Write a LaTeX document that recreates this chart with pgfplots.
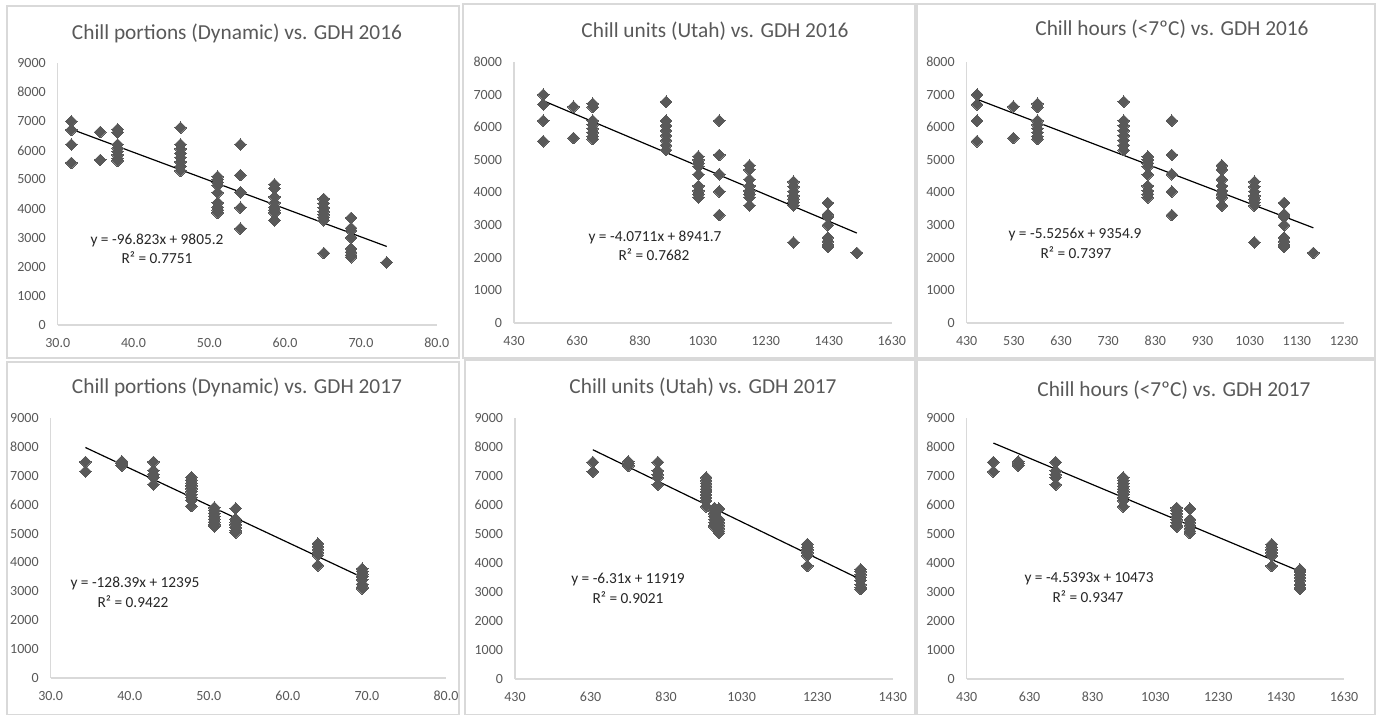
\documentclass[border=0pt]{standalone}
\usepackage{fontspec}
\setmainfont{Carlito}
\usepackage{pgfplots}
\usepackage{pgfplotstable}
\pgfplotsset{compat=1.18}
\definecolor{txt}{HTML}{595959}
\definecolor{axl}{HTML}{D9D9D9}
\definecolor{mk}{HTML}{595959}
\definecolor{frm}{HTML}{D9D9D9}

\pgfplotstableread{
cp cu ch gdh
31.8 523 452 7000
31.8 523 452 6700
31.8 523 452 6200
31.8 523 452 5570
35.6 619 529 6630
35.6 619 529 5670
37.9 680 580 6720
37.9 680 580 6620
37.9 680 580 6200
37.9 680 580 6080
37.9 680 580 5960
37.9 680 580 5840
37.9 680 580 5720
37.9 680 580 5640
46.2 913 763 6780
46.2 913 763 6200
46.2 913 763 6050
46.2 913 763 5900
46.2 913 763 5750
46.2 913 763 5600
46.2 913 763 5450
46.2 913 763 5300
51.1 1016 814 5100
51.1 1016 814 5000
51.1 1016 814 4900
51.1 1016 814 4800
51.1 1016 814 4550
51.1 1016 814 4200
51.1 1016 814 4050
51.1 1016 814 3950
51.1 1016 814 3850
54.1 1082 865 6200
54.1 1082 865 5150
54.1 1082 865 4560
54.1 1082 865 4030
54.1 1082 865 3310
58.6 1178 971 4830
58.6 1178 971 4700
58.6 1178 971 4400
58.6 1178 971 4200
58.6 1178 971 4050
58.6 1178 971 3950
58.6 1178 971 3850
58.6 1178 971 3600
65.1 1318 1040 4330
65.1 1318 1040 4180
65.1 1318 1040 4030
65.1 1318 1040 3900
65.1 1318 1040 3800
65.1 1318 1040 3700
65.1 1318 1040 3600
65.1 1318 1040 2470
68.7 1427 1103 3680
68.7 1427 1103 3330
68.7 1427 1103 3250
68.7 1427 1103 3000
68.7 1427 1103 2620
68.7 1427 1103 2500
68.7 1427 1103 2400
68.7 1427 1103 2330
73.4 1519 1165 2150
}\dataA

\pgfplotstableread{
cp cu ch gdh
34.4 636 515 7480
34.4 636 515 7150
39.0 730 594 7500
39.0 730 594 7420
39.0 730 594 7350
43.0 808 713 7480
43.0 808 713 7180
43.0 808 713 7050
43.0 808 713 6950
43.0 808 713 6700
47.8 936 928 6950
47.8 936 928 6850
47.8 936 928 6750
47.8 936 928 6650
47.8 936 928 6550
47.8 936 928 6450
47.8 936 928 6350
47.8 936 928 6250
47.8 936 928 6150
47.8 936 928 5950
50.7 958 1098 5900
50.7 958 1098 5800
50.7 958 1098 5700
50.7 958 1098 5600
50.7 958 1098 5500
50.7 958 1098 5400
50.7 958 1098 5300
50.7 958 1098 5250
53.4 970 1140 5870
53.4 970 1140 5500
53.4 970 1140 5400
53.4 970 1140 5300
53.4 970 1140 5200
53.4 970 1140 5100
53.4 970 1140 5030
63.8 1204 1400 4650
63.8 1204 1400 4550
63.8 1204 1400 4450
63.8 1204 1400 4350
63.8 1204 1400 4250
63.8 1204 1400 3900
69.4 1345 1490 3780
69.4 1345 1490 3700
69.4 1345 1490 3600
69.4 1345 1490 3500
69.4 1345 1490 3400
69.4 1345 1490 3250
69.4 1345 1490 3150
69.4 1345 1490 3100
}\dataB

\pgfplotsset{
  panel/.style={
    scale only axis,
    anchor=south west,
    axis lines*=left,
    axis line style={draw=axl, line width=0.9pt, -},
    major tick length=0pt,
    tick style={draw=none},
    ymin=0,
    ticklabel style={font=\fontsize{10.5}{12}\selectfont, text=txt},
    /pgf/number format/assume math mode=true,
    /pgf/number format/1000 sep={},
    yticklabel style={anchor=east, xshift=-5.5pt},
    xticklabel style={yshift=-6.5pt},
    clip=false,
  },
  fx/.style={xticklabel style={/pgf/number format/.cd, fixed, fixed zerofill, precision=1}},
  pts/.style={color=mk, only marks, mark=square*, mark size=3.1pt, mark options={rotate=45, fill=mk, draw=mk, line width=0pt}},
  trend/.style={black, line width=0.9pt, no marks},
}
\tikzset{
  ttl/.style={text=txt, font=\fontsize{16}{19}\selectfont, anchor=center, inner sep=0pt},
  eq/.style={text=black!85, font=\fontsize{11.5}{13}\selectfont, anchor=center, inner sep=0pt},
}

\begin{document}
\begin{tikzpicture}
\useasboundingbox (0,0) rectangle (1032pt,536.25pt);
\fill[white] (0,0) rectangle (1032pt,536.25pt);
% panel frames
\draw[frm, line width=0.9pt] (5.25pt,267.75pt) rectangle (344.25pt,531.75pt);
\draw[frm, line width=0.9pt] (347.25pt,267.75pt) rectangle (686.25pt,533.25pt);
\draw[frm, line width=0.9pt] (687.75pt,267.75pt) rectangle (1031.25pt,533.25pt);
\draw[frm, line width=0.9pt] (5.25pt,0.4pt) rectangle (344.25pt,264.75pt);
\draw[frm, line width=0.9pt] (348.75pt,0.4pt) rectangle (686.25pt,266.25pt);
\draw[frm, line width=0.9pt] (687.75pt,0.4pt) rectangle (1031.25pt,266.25pt);

% ---- Panel 1
\begin{axis}[panel, fx, at={(43.3pt,292.5pt)}, width=284.25pt, height=196.5pt,
  xmin=30, xmax=80, ymax=9000, xtick={30,40,...,80}, ytick={0,1000,...,9000}]
\addplot[pts] table[x=cp, y=gdh] {\dataA};
\addplot[trend] coordinates {(31.8,6726.2) (73.4,2698.4)};
\end{axis}
% ---- Panel 2
\begin{axis}[panel, at={(385.5pt,294pt)}, width=283.3pt, height=195.75pt,
  xmin=430, xmax=1630, ymax=8000, xtick={430,630,...,1630}, ytick={0,1000,...,8000}]
\addplot[pts] table[x=cu, y=gdh] {\dataA};
\addplot[trend] coordinates {(523,6812.5) (1519,2757.7)};
\end{axis}
% ---- Panel 3
\begin{axis}[panel, at={(725pt,294pt)}, width=283pt, height=195.75pt,
  xmin=430, xmax=1230, ymax=8000, xtick={430,530,...,1230}, ytick={0,1000,...,8000}]
\addplot[pts] table[x=ch, y=gdh] {\dataA};
\addplot[trend] coordinates {(452,6857.3) (1165,2917.6)};
\end{axis}
% ---- Panel 4
\begin{axis}[panel, fx, at={(38pt,27.75pt)}, width=296.5pt, height=195pt,
  xmin=30, xmax=80, ymax=9000, xtick={30,40,...,80}, ytick={0,1000,...,9000}]
\addplot[pts] table[x=cp, y=gdh] {\dataB};
\addplot[trend] coordinates {(34.4,7978.4) (69.4,3484.7)};
\end{axis}
% ---- Panel 5
\begin{axis}[panel, at={(386.25pt,27pt)}, width=283.3pt, height=195.75pt,
  xmin=430, xmax=1430, ymax=9000, xtick={430,630,...,1430}, ytick={0,1000,...,9000}]
\addplot[pts] table[x=cu, y=gdh] {\dataB};
\addplot[trend] coordinates {(636,7905.8) (1345,3432.0)};
\end{axis}
% ---- Panel 6
\begin{axis}[panel, at={(725pt,27pt)}, width=283pt, height=195.75pt,
  xmin=430, xmax=1630, ymax=9000, xtick={430,630,...,1630}, ytick={0,1000,...,9000}]
\addplot[pts] table[x=ch, y=gdh] {\dataB};
\addplot[trend] coordinates {(515,8135.3) (1490,3709.4)};
\end{axis}

% titles
\node[ttl] at (177.75pt,511.5pt) {Chill portions (Dynamic) vs. GDH 2016};
\node[ttl] at (536.25pt,513pt) {Chill units (Utah) vs. GDH 2016};
\node[ttl] at (879pt,514.5pt) {Chill hours (<7ºC) vs. GDH 2016};
\node[ttl] at (177.75pt,246pt) {Chill portions (Dynamic) vs. GDH 2017};
\node[ttl] at (527.25pt,246pt) {Chill units (Utah) vs. GDH 2017};
\node[ttl] at (880.5pt,243.75pt) {Chill hours (<7ºC) vs. GDH 2017};

% trendline equations
\node[eq] at (117.75pt,356.25pt) {y = -96.823x + 9805.2};
\node[eq] at (117.75pt,342.75pt) {R² = 0.7751};
\node[eq] at (491.25pt,358.5pt) {y = -4.0711x + 8941.7};
\node[eq] at (490.5pt,345pt) {R² = 0.7682};
\node[eq] at (806.25pt,360pt) {y = -5.5256x + 9354.9};
\node[eq] at (807pt,346.5pt) {R² = 0.7397};
\node[eq] at (101.25pt,99pt) {y = -128.39x + 12395};
\node[eq] at (99.75pt,84.75pt) {R² = 0.9422};
\node[eq] at (471pt,101.25pt) {y = -6.31x + 11919};
\node[eq] at (471pt,87.75pt) {R² = 0.9021};
\node[eq] at (816.75pt,102pt) {y = -4.5393x + 10473};
\node[eq] at (816pt,88.5pt) {R² = 0.9347};
\end{tikzpicture}
\end{document}
